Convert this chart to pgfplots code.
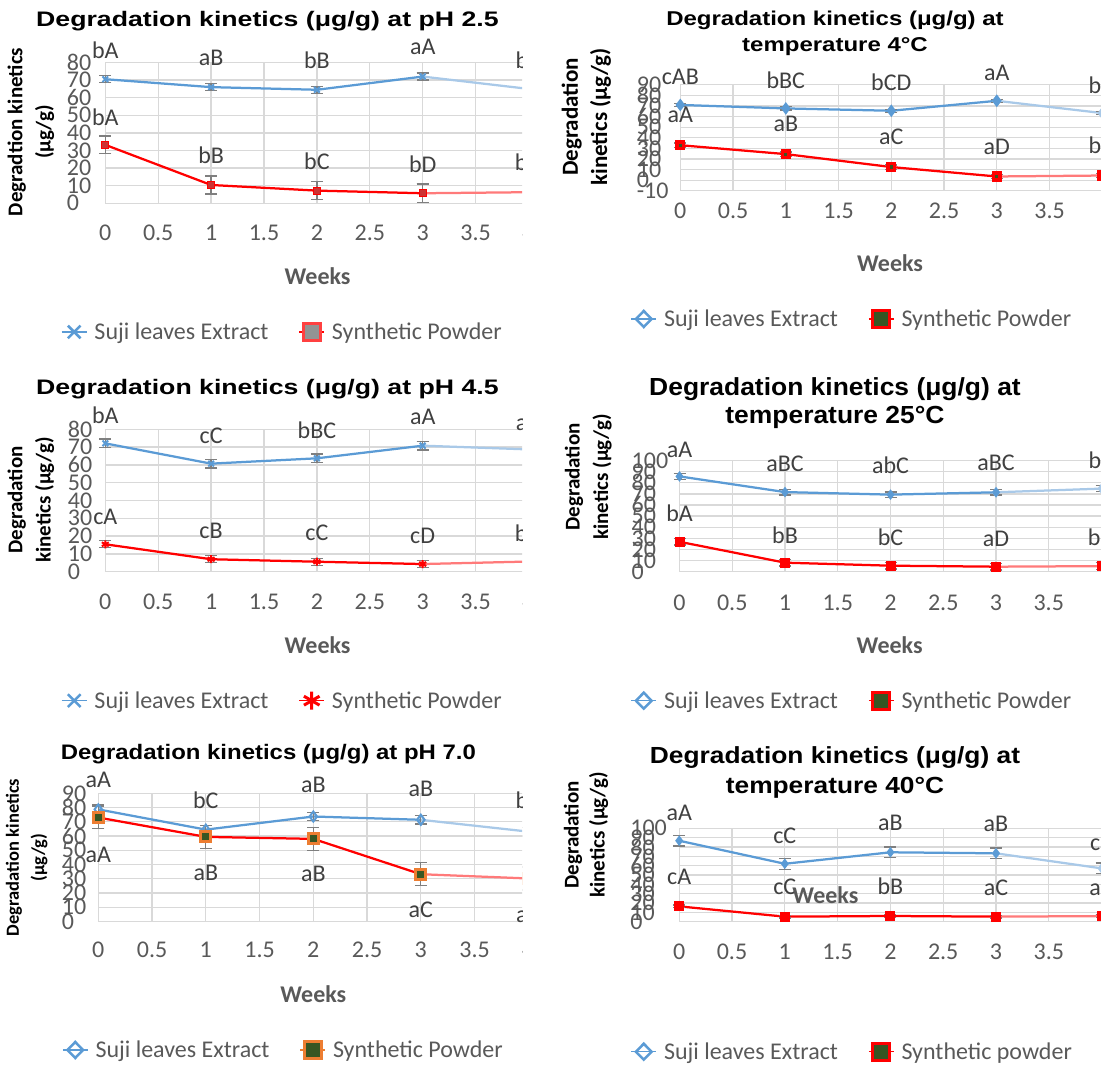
\documentclass[border=0pt]{standalone}
\usepackage{fontspec}
\usepackage{graphicx}
\usepackage{pgfplots}
\pgfplotsset{compat=1.18}
\setmainfont{Carlito}
\newfontfamily\carlito{Carlito}
\newfontfamily\arial{Liberation Sans}
\definecolor{suji}{HTML}{5B9BD5}
\definecolor{sujil}{HTML}{A9C9E8}
\definecolor{synred}{HTML}{FF0000}
\definecolor{synl}{HTML}{FF7A7A}
\definecolor{gridgray}{HTML}{D9D9D9}
\definecolor{tgray}{HTML}{595959}
\definecolor{lgray}{HTML}{404040}
\definecolor{errgray}{HTML}{7F7F7F}
\definecolor{dgreen}{HTML}{375623}
\definecolor{orng}{HTML}{ED7D31}
\newcommand\tickfont{\carlito\fontsize{24}{24}\selectfont}
\newcommand\weeksfont{\carlito\bfseries\fontsize{24}{24}\selectfont}
\pgfplotsset{
  panel/.style={scale only axis, anchor=south west, clip=false, xmin=0, xmax=4,
    axis lines*=left, axis line style={draw=none}, major tick length=0pt,
    grid=major, major grid style={draw=gridgray, line width=1.3pt},
    xtick={0,0.5,1,1.5,2,2.5,3,3.5,4}, xticklabels={0,0.5,1,1.5,2,2.5,3,3.5,4},
    ticklabel style={font=\tickfont, text=tgray, inner sep=0pt},
    legend columns=2,
    legend style={draw=none, fill=none, anchor=west, inner sep=0pt, outer sep=0pt,
      font=\tickfont, text=tgray, nodes={inner sep=0pt},
      /tikz/every odd column/.append style={column sep=7pt},
      /tikz/every even column/.append style={column sep=30pt}},
    legend image code/.code={\draw[mark repeat=2,mark phase=2] plot coordinates {(0pt,0pt)(12.5pt,0pt)(25pt,0pt)};},
  },
  rightpanel/.style={xticklabels={0,0.5,1,1.5,2,2.5,3,3.5,{}}},
  errs/.style={error bars/y dir=both, error bars/y explicit,
    error bars/error bar style={line width=1.3pt, color=errgray, solid},
    error bars/error mark options={rotate=90, mark size=6pt, line width=1.3pt, color=errgray}},
  lbl/.style={forget plot, draw=none, mark=none, nodes near coords, point meta=explicit symbolic,
    every node near coord/.append style={anchor=center, inner sep=0pt, font=\tickfont, text=lgray}},
  ln/.style={forget plot, line width=2.25pt},
}
\begin{document}
\begin{tikzpicture}
\useasboundingbox (0pt,0pt) rectangle (1101pt,1065pt);
% ================= Panel 1: pH 2.5 =================
\begin{scope}
\clip (0pt,0pt) rectangle (522pt,1065pt);
\begin{axis}[panel, at={(105.3pt,861.7pt)}, width=423.2pt, height=140.8pt,
  ymin=0, ymax=80, ytick={0,10,...,80}, yticklabels={0,10,20,30,40,50,60,70,80},
  xticklabel style={anchor=center, yshift=-29.7pt},
  yticklabel style={anchor=west, xshift=-38.6pt},
  legend style={at={(axis description cs:-0.1047,-0.9141)}}]
\addplot[ln, color=sujil, mark=x, mark size=4pt, mark options={solid,line width=2pt}, errs] coordinates {(3,72) +- (0,2) (4,65) +- (0,2)};
\addplot[ln, color=suji, mark=x, mark size=4pt, mark options={solid,line width=2pt}, errs] coordinates {(0,70.5) +- (0,2) (1,66) +- (0,2) (2,64.5) +- (0,2) (3,72) +- (0,2)};
\addplot[ln, color=synl, mark=square*, mark size=3.5pt, mark options={solid,fill=red!60!gray,draw=synred,line width=1pt}, errs] coordinates {(3,5.7) +- (0,5.3) (4,6.3) +- (0,5)};
\addplot[ln, color=synred, mark=square*, mark size=3.5pt, mark options={solid,fill=red!60!gray,draw=synred,line width=1pt}, errs] coordinates {(0,33.2) +- (0,5) (1,10.4) +- (0,5.1) (2,7.2) +- (0,5) (3,5.7) +- (0,5.3)};
\addplot[lbl] coordinates {(0,87.2)[bA] (1,82.5)[aB] (2,81)[bB] (3,88.8)[aA] (4,81.1)[bB]};
\addplot[lbl] coordinates {(0,48.9)[bA] (1,27.5)[bB] (2,23.7)[bC] (3,22.4)[bD] (4,23.1)[bD]};
\addlegendimage{color=suji, line width=1.5pt, mark=x, mark size=9pt, mark options={solid,line width=2.5pt}}
\addlegendentry{Suji leaves Extract}
\addlegendimage{color=synred, line width=1.5pt, mark=square*, mark size=8.5pt, mark options={solid,fill=gray!85,draw=synred!75,line width=3pt}}
\addlegendentry{Synthetic Powder}
\end{axis}
\end{scope}
\node[anchor=base] at (267.4pt,1038.3pt) {\scalebox{1.27}[1]{\arial\bfseries\fontsize{21}{21}\selectfont Degradation kinetics (μg/g) at pH 2.5}};
\node[rotate=90, align=center, font=\carlito\bfseries\fontsize{21}{28.2}\selectfont] at (30.9pt,933pt) {Degradtion kinetics\\(μg/g)};
\node[font=\weeksfont, text=tgray] at (317.5pt,789pt) {Weeks};
% ================= Panel 2: 4 C =================
\begin{axis}[panel, rightpanel, at={(680.3pt,874.2pt)}, width=422pt, height=106pt,
  ymin=-10, ymax=90, ytick={-10,0,...,90}, yticklabels={-10,0,10,20,30,40,50,60,70,80,90},
  xticklabel style={anchor=center, yshift=-20pt},
  yticklabel style={anchor=west, xshift=-43.6pt},
  legend style={at={(axis description cs:-0.118,-1.2094)}}]
\addplot[ln, color=sujil, mark=diamond*, mark size=4.5pt, mark options={solid,fill=sujil}, errs] coordinates {(3,74.9) +- (0,1.5) (4,63.3) +- (0,1.5)};
\addplot[ln, color=suji, mark=diamond*, mark size=4.5pt, mark options={solid,fill=suji}, errs] coordinates {(0,71) +- (0,1.5) (1,67.7) +- (0,1.5) (2,65.5) +- (0,1.5) (3,74.9) +- (0,1.5)};
\addplot[ln, color=synl, mark=square*, mark size=3.3pt, mark options={solid,fill=dgreen,draw=synred,line width=3.5pt}, errs] coordinates {(3,3.5) +- (0,2) (4,4.4) +- (0,2)};
\addplot[ln, color=synred, mark=square*, mark size=3.3pt, mark options={solid,fill=dgreen,draw=synred,line width=3.5pt}, errs] coordinates {(0,33) +- (0,2) (1,24.6) +- (0,2) (2,12.4) +- (0,2) (3,3.5) +- (0,2)};
\addplot[lbl] coordinates {(0,97.8)[cAB] (1,94.7)[bBC] (2,92.2)[bCD] (3,101.6)[aA] (4,90)[bD]};
\addplot[lbl] coordinates {(0,61.7)[aA] (1,52.9)[aB] (2,41.2)[aC] (3,31.8)[aD] (4,33.4)[bD]};
\addlegendimage{color=suji, line width=1.5pt, mark=diamond, mark size=8pt, mark options={solid,fill=white,draw=suji,line width=2.5pt,xscale=1.3}}
\addlegendentry{Suji leaves Extract}
\addlegendimage{color=synred, line width=1.5pt, mark=square*, mark size=8.5pt, mark options={solid,fill=dgreen,draw=synred,line width=3pt}}
\addlegendentry{Synthetic Powder}
\end{axis}
\node[anchor=base] at (835pt,1039pt) {\scalebox{1.2}[1]{\arial\bfseries\fontsize{20}{20}\selectfont Degradation kinetics (μg/g) at}};
\node[anchor=base] at (835pt,1013.3pt) {\scalebox{1.2}[1]{\arial\bfseries\fontsize{20}{20}\selectfont temperature 4°C}};
\node[rotate=90, align=center, font=\carlito\bfseries\fontsize{23}{29.2}\selectfont] at (586.4pt,948pt) {Degradation\\kinetics (μg/g)};
\node[font=\weeksfont, text=tgray] at (890pt,802pt) {Weeks};
% ================= Panel 3: pH 4.5 =================
\begin{scope}
\clip (0pt,0pt) rectangle (522pt,1065pt);
\begin{axis}[panel, at={(105.3pt,493.3pt)}, width=423.2pt, height=142.4pt,
  ymin=0, ymax=80, ytick={0,10,...,80}, yticklabels={0,10,20,30,40,50,60,70,80},
  xticklabel style={anchor=center, yshift=-30pt},
  yticklabel style={anchor=west, xshift=-37.5pt},
  legend style={at={(axis description cs:-0.1047,-0.9059)}}]
\addplot[ln, color=sujil, mark=x, mark size=4pt, mark options={solid,line width=2pt}, errs] coordinates {(3,70.8) +- (0,2.5) (4,68.7) +- (0,2.5)};
\addplot[ln, color=suji, mark=x, mark size=4pt, mark options={solid,line width=2pt}, errs] coordinates {(0,72.1) +- (0,2.5) (1,60.7) +- (0,2.5) (2,63.7) +- (0,2.5) (3,70.8) +- (0,2.5)};
\addplot[ln, color=synl, mark=asterisk, mark size=4pt, mark options={solid,line width=2pt}, errs] coordinates {(3,4.3) +- (0,2) (4,5.7) +- (0,2)};
\addplot[ln, color=synred, mark=asterisk, mark size=4pt, mark options={solid,line width=2pt}, errs] coordinates {(0,15.4) +- (0,2) (1,7) +- (0,2) (2,5.6) +- (0,2) (3,4.3) +- (0,2)};
\addplot[lbl] coordinates {(0,88)[bA] (1,76.2)[cC] (2,79.2)[bBC] (3,86.7)[aA] (4,83.4)[aA]};
\addplot[lbl] coordinates {(0,30.9)[cA] (1,22.9)[cB] (2,21.9)[cC] (3,20.2)[cD] (4,21.5)[bD]};
\addlegendimage{color=suji, line width=1.5pt, mark=x, mark size=9pt, mark options={solid,line width=2.5pt}}
\addlegendentry{Suji leaves Extract}
\addlegendimage{color=synred, line width=1.5pt, mark=asterisk, mark size=9pt, mark options={solid,line width=3pt}}
\addlegendentry{Synthetic Powder}
\end{axis}
\end{scope}
\node[anchor=base] at (267.4pt,670pt) {\scalebox{1.27}[1]{\arial\bfseries\fontsize{21}{21}\selectfont Degradation kinetics (μg/g) at pH 4.5}};
\node[rotate=90, align=center, font=\carlito\bfseries\fontsize{21}{28.2}\selectfont] at (30.9pt,565pt) {Degradation\\kinetics (μg/g)};
\node[font=\weeksfont, text=tgray] at (317.5pt,420pt) {Weeks};
% ================= Panel 4: 25 C =================
\begin{axis}[panel, rightpanel, at={(679.5pt,493.3pt)}, width=422pt, height=111.2pt,
  ymin=0, ymax=100, ytick={0,10,...,100}, yticklabels={0,10,20,30,40,50,60,70,80,90,100},
  xticklabel style={anchor=center, yshift=-31pt},
  yticklabel style={anchor=west, xshift=-48pt},
  legend style={at={(axis description cs:-0.1161,-1.16)}}]
\addplot[ln, color=sujil, mark=diamond*, mark size=3.5pt, mark options={solid,fill=sujil}, errs] coordinates {(3,71.4) +- (0,2.5) (4,74.7) +- (0,2.5)};
\addplot[ln, color=suji, mark=diamond*, mark size=3.5pt, mark options={solid,fill=suji}, errs] coordinates {(0,85.7) +- (0,2.5) (1,71.6) +- (0,2.5) (2,69.3) +- (0,2.5) (3,71.4) +- (0,2.5)};
\addplot[ln, color=synl, mark=square*, mark size=4pt, mark options={solid,fill=synred,draw=synred,line width=2pt}, errs] coordinates {(3,4.5) +- (0,3) (4,5) +- (0,3)};
\addplot[ln, color=synred, mark=square*, mark size=4pt, mark options={solid,fill=synred,draw=synred,line width=2pt}, errs] coordinates {(0,26.9) +- (0,3) (1,8.1) +- (0,3) (2,5.4) +- (0,3) (3,4.5) +- (0,3)};
\addplot[lbl] coordinates {(0,109.6)[aA] (1,97)[aBC] (2,95.5)[abC] (3,97.6)[aBC] (4,100)[bB]};
\addplot[lbl] coordinates {(0,52.3)[bA] (1,32.9)[bB] (2,31.3)[bC] (3,29.9)[aD] (4,31.3)[bD]};
\addlegendimage{color=suji, line width=1.5pt, mark=diamond, mark size=8pt, mark options={solid,fill=white,draw=suji,line width=2.5pt,xscale=1.3}}
\addlegendentry{Suji leaves Extract}
\addlegendimage{color=synred, line width=1.5pt, mark=square*, mark size=8.5pt, mark options={solid,fill=dgreen,draw=synred,line width=3pt}}
\addlegendentry{Synthetic Powder}
\end{axis}
\node[anchor=base] at (835pt,669pt) {\scalebox{1.07}[1]{\arial\bfseries\fontsize{24.7}{24.7}\selectfont Degradation kinetics (μg/g) at}};
\node[anchor=base] at (835pt,641.7pt) {\scalebox{1.07}[1]{\arial\bfseries\fontsize{24.7}{24.7}\selectfont temperature 25°C}};
\node[rotate=90, align=center, font=\carlito\bfseries\fontsize{21}{28.6}\selectfont] at (588.3pt,588pt) {Degradation\\kinetics (μg/g)};
\node[font=\weeksfont, text=tgray] at (889.6pt,420pt) {Weeks};
% ================= Panel 5: pH 7.0 =================
\begin{scope}
\clip (0pt,0pt) rectangle (522pt,1065pt);
\begin{axis}[panel, at={(98.3pt,143.5pt)}, width=430pt, height=128.2pt,
  ymin=0, ymax=90, ytick={0,10,...,90}, yticklabels={0,10,20,30,40,50,60,70,80,90},
  xticklabel style={anchor=center, yshift=-28.5pt},
  yticklabel style={anchor=west, xshift=-36.6pt},
  legend style={at={(axis description cs:-0.0844,-1.0023)}}]
\addplot[ln, color=sujil, mark=diamond, mark size=5pt, mark options={solid,fill=white,draw=sujil,line width=2pt}, errs] coordinates {(3,71.4) +- (0,3) (4,63.1) +- (0,3)};
\addplot[ln, color=suji, mark=diamond, mark size=5pt, mark options={solid,fill=white,draw=suji,line width=2pt}, errs] coordinates {(0,78.7) +- (0,3) (1,64.5) +- (0,3) (2,73.7) +- (0,3) (3,71.4) +- (0,3)};
\addplot[ln, color=synl, mark=square*, mark size=5pt, mark options={solid,fill=dgreen,draw=orng,line width=3pt}, errs] coordinates {(3,33.2) +- (0,8) (4,30.2) +- (0,8)};
\addplot[ln, color=synred, mark=square*, mark size=5pt, mark options={solid,fill=dgreen,draw=orng,line width=3pt}, errs] coordinates {(0,73) +- (0,7.5) (1,59.4) +- (0,8) (2,58) +- (0,8) (3,33.2) +- (0,8)};
\addplot[lbl] coordinates {(0,99.5)[aA] (1,85.4)[bC] (2,96)[aB] (3,92.9)[aB] (4,85.4)[bC]};
\addplot[lbl] coordinates {(0,46.7)[aA] (1,33.9)[aB] (2,33.4)[aB] (3,8.1)[aC] (4,4.6)[aC]};
\addlegendimage{color=suji, line width=1.5pt, mark=diamond, mark size=8pt, mark options={solid,fill=white,draw=suji,line width=2.5pt,xscale=1.3}}
\addlegendentry{Suji leaves Extract}
\addlegendimage{color=orng, line width=1.5pt, mark=square*, mark size=8.5pt, mark options={solid,fill=dgreen,draw=orng,line width=3pt}}
\addlegendentry{Synthetic Powder}
\end{axis}
\end{scope}
\node[anchor=base] at (268.4pt,305pt) {\scalebox{1.14}[1]{\arial\bfseries\fontsize{21}{21}\selectfont Degradation kinetics (μg/g) at pH 7.0}};
\node[rotate=90, align=center, font=\carlito\bfseries\fontsize{18.5}{25.3}\selectfont] at (26.7pt,207.5pt) {Degradation kinetics\\(μg/g)};
\node[font=\weeksfont, text=tgray] at (313.3pt,71pt) {Weeks};
% ================= Panel 6: 40 C =================
\begin{axis}[panel, rightpanel, at={(679.2pt,143.3pt)}, width=422.4pt, height=93.4pt,
  ymin=0, ymax=100, ytick={0,10,...,100}, yticklabels={0,10,20,30,40,50,60,70,80,90,100},
  xticklabel style={anchor=center, yshift=-30pt},
  yticklabel style={anchor=west, xshift=-49pt},
  legend style={at={(axis description cs:-0.1153,-1.392)}}]
\addplot[ln, color=sujil, mark=diamond*, mark size=3.5pt, mark options={solid,fill=sujil}, errs] coordinates {(3,73.2) +- (0,5.7) (4,57.1) +- (0,5.7)};
\addplot[ln, color=suji, mark=diamond*, mark size=3.5pt, mark options={solid,fill=suji}, errs] coordinates {(0,86.7) +- (0,5.5) (1,62) +- (0,6) (2,74.3) +- (0,5.7) (3,73.2) +- (0,5.7)};
\addplot[ln, color=synl, mark=square*, mark size=4pt, mark options={solid,fill=synred,draw=synred,line width=2pt}, errs] coordinates {(3,5.4) +- (0,1.5) (4,6) +- (0,1.5)};
\addplot[ln, color=synred, mark=square*, mark size=4pt, mark options={solid,fill=synred,draw=synred,line width=2pt}, errs] coordinates {(0,16.4) +- (0,1.5) (1,5.4) +- (0,1.5) (2,6.1) +- (0,1.5) (3,5.4) +- (0,1.5)};
\addplot[lbl] coordinates {(0,116.7)[aA] (1,91.8)[cC] (2,105.4)[aB] (3,104.6)[aB] (4,84)[cC]};
\addplot[lbl] coordinates {(0,47.5)[cA] (1,37.5)[cC] (2,37.5)[bB] (3,36.8)[aC] (4,36)[aC]};
\addlegendimage{color=suji, line width=1.5pt, mark=diamond, mark size=8pt, mark options={solid,fill=white,draw=suji,line width=2.5pt,xscale=1.3}}
\addlegendentry{Suji leaves Extract}
\addlegendimage{color=synred, line width=1.5pt, mark=square*, mark size=8.5pt, mark options={solid,fill=dgreen,draw=synred,line width=3pt}}
\addlegendentry{Synthetic powder}
\end{axis}
\node[anchor=base] at (835pt,301.7pt) {\scalebox{1.13}[1]{\arial\bfseries\fontsize{23.3}{23.3}\selectfont Degradation kinetics (μg/g) at}};
\node[anchor=base] at (835pt,271.7pt) {\scalebox{1.13}[1]{\arial\bfseries\fontsize{23.3}{23.3}\selectfont temperature 40°C}};
\node[rotate=90, align=center, font=\carlito\bfseries\fontsize{21}{26}\selectfont] at (585.9pt,230pt) {Degradation\\kinetics (μg/g)};
\node[font=\weeksfont, text=tgray] at (825.4pt,170pt) {Weeks};
\end{tikzpicture}
\end{document}
